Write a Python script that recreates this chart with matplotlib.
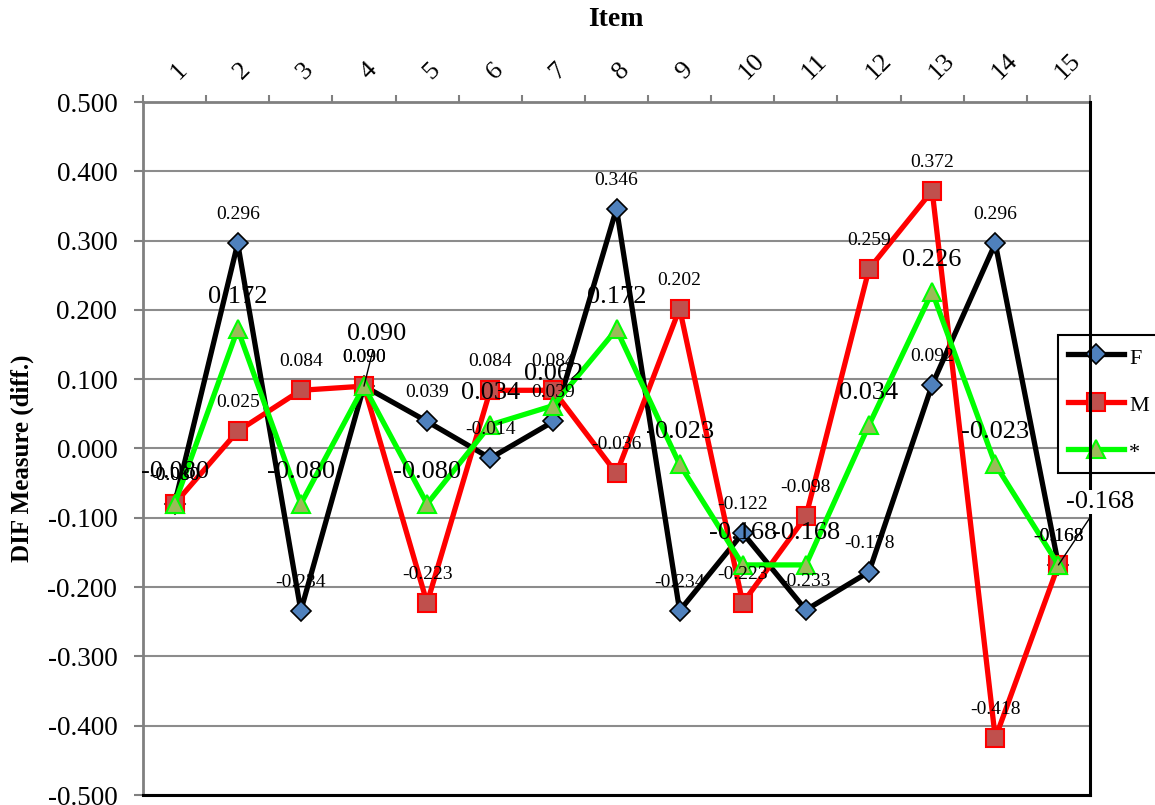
import matplotlib.pyplot as plt
from matplotlib.ticker import FormatStrFormatter

items = [str(i) for i in range(1, 16)]
f_vals = [-0.080, 0.296, -0.234, 0.090, 0.039, -0.014, 0.039, 0.346,
          -0.234, -0.122, -0.233, -0.178, 0.092, 0.296, -0.168]
m_vals = [-0.080, 0.025, 0.084, 0.090, -0.223, 0.084, 0.084, -0.036,
          0.202, -0.223, -0.098, 0.259, 0.372, -0.418, -0.168]
star_vals = [-0.080, 0.172, -0.080, 0.090, -0.080, 0.034, 0.062, 0.172,
             -0.023, -0.168, -0.168, 0.034, 0.226, -0.023, -0.168]
y_ticks = [i / 10 for i in range(-5, 6)]

plt.rcParams['font.family'] = ['Liberation Serif', 'DejaVu Serif']

fig = plt.figure(figsize=(11.55, 8.05), dpi=100)
ax = fig.add_axes([143 / 1155, 10 / 805, 947 / 1155, 693 / 805])
x = list(range(1, len(items) + 1))

ax.plot(x, f_vals, color='black', lw=3.8, marker='D', ms=10,
        mfc='#4f81bd', mec='black', mew=1.2, label='F', zorder=3)
ax.plot(x, m_vals, color='red', lw=3.8, marker='s', ms=13,
        mfc='#c0504d', mec='red', mew=1.5, label='M', zorder=3.1)
ax.plot(x, star_vals, color='#00ff00', lw=3.8, marker='^', ms=13,
        mfc='#9bbb59', mec='#00ff00', mew=1.5, label='*', zorder=3.2)

# small value labels for F and M
for vals in (f_vals, m_vals):
    for xi, v in zip(x, vals):
        ax.annotate(f'{v:.3f}', (xi, v), xytext=(0, 24),
                    textcoords='offset pixels', ha='center', va='baseline',
                    fontsize=14, zorder=7)

# larger labels for the * series; two of them were dragged off with leaders
moved = {4: (13, 46), 15: (42, 57)}
for xi, v in zip(x, star_vals):
    if xi in moved:
        t = ax.annotate(f'{v:.3f}', (xi, v), xytext=moved[xi],
                        textcoords='offset pixels', ha='center', va='baseline',
                        fontsize=19, zorder=8,
                        arrowprops=dict(arrowstyle='-', lw=1, color='black',
                                        shrinkA=2, shrinkB=0))
        if xi == 15:
            t.set_bbox(dict(facecolor='white', edgecolor='none', pad=1))
    else:
        ax.annotate(f'{v:.3f}', (xi, v), xytext=(0, 26),
                    textcoords='offset pixels', ha='center', va='baseline',
                    fontsize=19, zorder=7)

ax.set_xlim(0.5, 15.5)
ax.set_ylim(-0.5, 0.5)
ax.set_yticks(y_ticks)
ax.yaxis.set_major_formatter(FormatStrFormatter('%.3f'))
ax.tick_params(axis='y', length=6.5, width=1.5, color='#808080', pad=12,
               labelsize=19.5)

ax.xaxis.tick_top()
ax.set_xticks(x, labels=items)
ax.set_xticks([i + 0.5 for i in range(0, 16)], minor=True)
ax.tick_params(axis='x', which='major', length=0, pad=19, labelsize=19)
ax.tick_params(axis='x', which='minor', length=5, width=1.5,
               color='#808080', top=True, bottom=False, direction='out')
for lbl in ax.get_xticklabels():
    lbl.set_rotation(45)
    lbl.set_ha('left')
    lbl.set_va('center')
    lbl.set_rotation_mode('anchor')

ax.grid(axis='y', color='#8c8c8c', lw=1.5)
ax.set_axisbelow(True)

for s in ('left', 'top'):
    ax.spines[s].set_color('#808080')
    ax.spines[s].set_linewidth(2)
for s in ('right', 'bottom'):
    ax.spines[s].set_color('black')
    ax.spines[s].set_linewidth(2.2)
ax.spines['right'].set_zorder(6)

leg = ax.legend(loc='upper left', bbox_to_anchor=(1058 / 1155, 1 - 335 / 805),
                bbox_transform=fig.transFigure, fancybox=False,
                edgecolor='black', framealpha=1, fontsize=16,
                handlelength=2.5, handleheight=1.2, handletextpad=0.25,
                borderpad=0.45, labelspacing=1.05, borderaxespad=0)
leg.get_frame().set_linewidth(1.5)

fig.text(616 / 1155, 1 - 20 / 805, 'Item', ha='center', va='center',
         fontsize=20, fontweight='bold')
fig.text(22 / 1155, 1 - 458 / 805, 'DIF Measure (diff.)', rotation=90,
         ha='center', va='center', fontsize=18, fontweight='bold')

fig.savefig('out.png', dpi=100)
